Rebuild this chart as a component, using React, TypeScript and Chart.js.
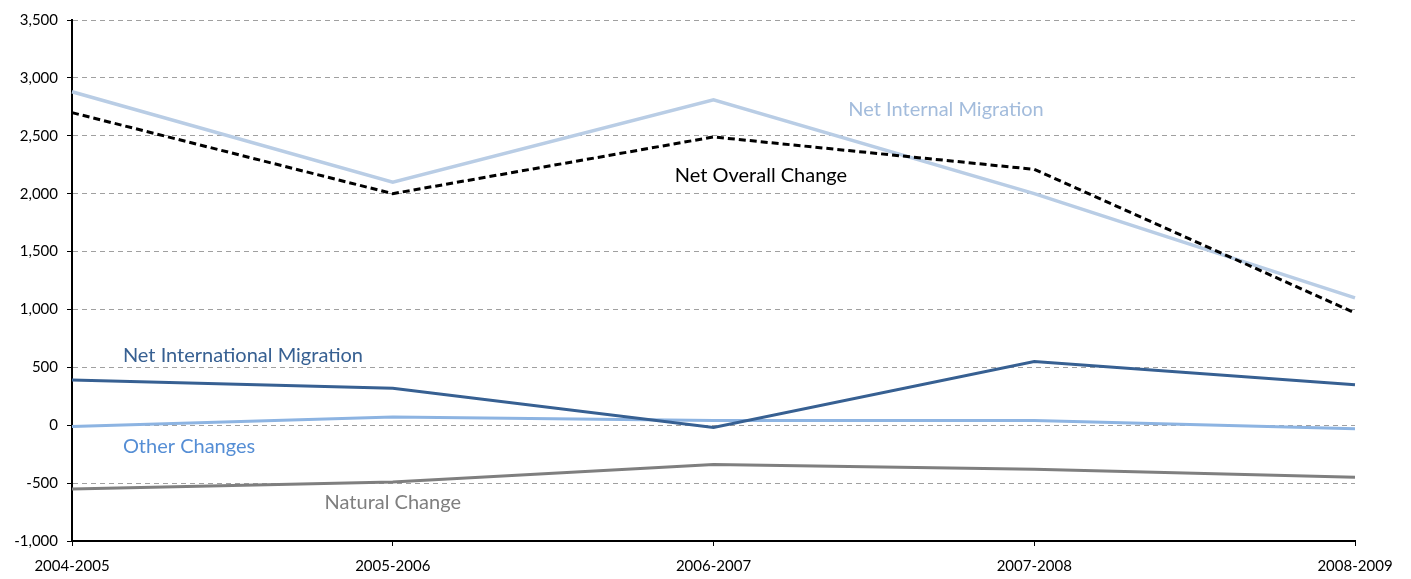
import React, { useEffect, useRef } from 'react';
import { Chart, registerables } from 'chart.js';

Chart.register(...registerables);

const periods = ['2004-2005', '2005-2006', '2006-2007', '2007-2008', '2008-2009'];
const netOverallChange = [2700, 2000, 2490, 2210, 970];
const netInternalMigration = [2880, 2100, 2810, 2000, 1100];
const netInternationalMigration = [390, 320, -20, 550, 350];
const otherChanges = [-10, 70, 40, 40, -30];
const naturalChange = [-550, -490, -340, -380, -450];

const yMin = -1000;
const yMax = 3500;
const yStep = 500;

// Series name annotations: position in category-index units (x) and value units (y)
const seriesNotes = [
  { text: 'Net Internal Migration', color: '#A3BCDC', x: 2.725, y: 2729 },
  { text: 'Net Overall Change', color: '#000000', x: 2.148, y: 2159 },
  { text: 'Net International Migration', color: '#376092', x: 0.533, y: 604 },
  { text: 'Other Changes', color: '#558ED5', x: 0.365, y: -181 },
  { text: 'Natural Change', color: '#7F7F7F', x: 1.0, y: -665 },
];

const FONT = 'Lato, "Open Sans", sans-serif';

const notesPlugin = {
  id: 'seriesNotes',
  afterDatasetsDraw(chart: any) {
    const { ctx, scales } = chart;
    const xs = scales.x;
    const ys = scales.y;
    const x0 = xs.getPixelForValue(0);
    const x1 = xs.getPixelForValue(1);
    ctx.save();
    ctx.font = `20px ${FONT}`;
    ctx.textAlign = 'center';
    ctx.textBaseline = 'middle';
    for (const n of seriesNotes) {
      ctx.fillStyle = n.color;
      ctx.fillText(n.text, x0 + (x1 - x0) * n.x, ys.getPixelForValue(n.y));
    }
    ctx.restore();
  },
};

export default function App() {
  const ref = useRef<HTMLCanvasElement | null>(null);
  useEffect(() => {
    if (!ref.current) return;
    const chart = new Chart(ref.current, {
      type: 'line',
      data: {
        labels: periods,
        datasets: [
          {
            label: 'Net Overall Change',
            data: netOverallChange,
            borderColor: '#000000',
            borderWidth: 3,
            borderDash: [7, 4],
            pointRadius: 0,
            tension: 0,
            fill: false,
          },
          {
            label: 'Net Internal Migration',
            data: netInternalMigration,
            borderColor: '#B9CDE5',
            borderWidth: 3.5,
            pointRadius: 0,
            tension: 0,
            fill: false,
          },
          {
            label: 'Net International Migration',
            data: netInternationalMigration,
            borderColor: '#376092',
            borderWidth: 3,
            pointRadius: 0,
            tension: 0,
            fill: false,
          },
          {
            label: 'Other Changes',
            data: otherChanges,
            borderColor: '#8DB4E2',
            borderWidth: 3,
            pointRadius: 0,
            tension: 0,
            fill: false,
          },
          {
            label: 'Natural Change',
            data: naturalChange,
            borderColor: '#7F7F7F',
            borderWidth: 3,
            pointRadius: 0,
            tension: 0,
            fill: false,
          },
        ],
      },
      options: {
        animation: false,
        responsive: true,
        maintainAspectRatio: false,
        layout: { padding: { top: 20, right: 56, left: 0, bottom: 0 } },
        plugins: {
          legend: { display: false },
          tooltip: { enabled: false },
          title: { display: false },
        },
        scales: {
          x: {
            type: 'category',
            offset: false,
            grid: {
              display: true,
              drawOnChartArea: false,
              drawTicks: true,
              tickLength: 5,
              tickColor: '#000000',
              tickWidth: 1,
            },
            border: { display: true, color: '#000000', width: 2 },
            ticks: {
              color: '#000000',
              font: { family: FONT, size: 15 },
              padding: 11,
              maxRotation: 0,
              autoSkip: false,
            },
            afterFit(scale: any) {
              scale.height = 38;
            },
          },
          y: {
            min: yMin,
            max: yMax,
            grid: {
              color: '#A0A0A0',
              lineWidth: 1,
              drawTicks: true,
              tickLength: 5,
              tickColor: '#000000',
              tickWidth: 1,
              tickBorderDash: [],
            },
            border: { display: true, color: '#000000', width: 2, dash: [5, 4] },
            ticks: {
              stepSize: yStep,
              color: '#000000',
              font: { family: FONT, size: 15 },
              padding: 9,
              callback: (v: any) => Number(v).toLocaleString('en-US'),
            },
            afterFit(scale: any) {
              scale.width = 72;
            },
          },
        },
      },
      plugins: [notesPlugin],
    } as any);
    return () => chart.destroy();
  }, []);
  return (
    <div style={{ position: 'absolute', left: 0, top: 0, width: 1411, height: 579, background: '#ffffff' }}>
      <canvas ref={ref} />
    </div>
  );
}
